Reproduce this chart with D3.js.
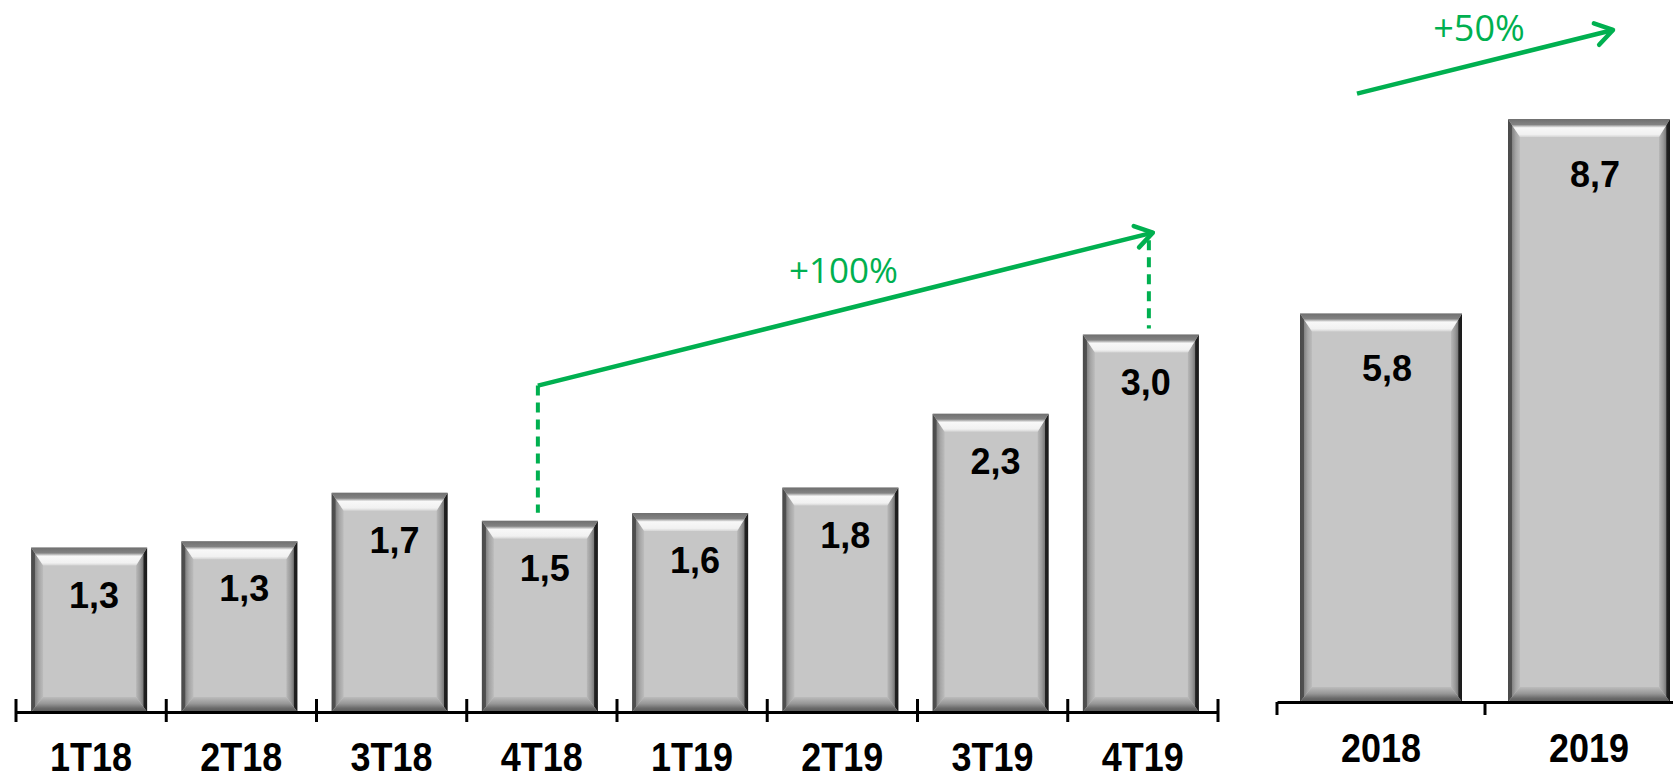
<!DOCTYPE html>
<html>
<head>
<meta charset="utf-8">
<script src="https://cdn.jsdelivr.net/npm/d3@7"></script>
<style>
	body { margin: 0; background: #fff; }
	svg { display: block; }
</style>
</head>
<body>
<div class="chart"></div>
<script>
const WIDTH = 1673;
const HEIGHT = 780;

// quarterly data (R$ bi)
const quarters = ['1T18', '2T18', '3T18', '4T18', '1T19', '2T19', '3T19', '4T19'];
const quarterValues = [1.29, 1.34, 1.72, 1.50, 1.56, 1.76, 2.34, 2.96];

// yearly data
const years = ['2018', '2019'];
const yearValues = [5.8, 8.7];

// growth callouts
const quarterGrowth = '+100%';
const yearGrowth = '+50%';

const GREEN = '#00b050';
const fmt = v => d3.format('.1f')(v).replace('.', ',');

const svg = d3
	.select('.chart')
	.append('svg')
	.attr('width', WIDTH)
	.attr('height', HEIGHT);

// gradients for the bevelled bars
const defs = svg.append('defs');
function grad(id, x1, y1, x2, y2, stops) {
	const g = defs.append('linearGradient')
		.attr('id', id)
		.attr('x1', x1).attr('y1', y1).attr('x2', x2).attr('y2', y2);
	stops.forEach(s => {
		g.append('stop').attr('offset', s[0]).attr('stop-color', s[1]);
	});
}
grad('gL', 0, 0, 1, 0, [[0, '#4a4a4a'], [0.3, '#505050'], [0.36, '#858585'], [0.65, '#a6a6a6'], [1, '#bcbcbc']]);
grad('gR', 1, 0, 0, 0, [[0, '#1a1a1a'], [0.3, '#222'], [0.36, '#7a7a7a'], [0.62, '#9a9a9a'], [1, '#b8b8b8']]);
grad('gT', 0, 0, 0, 1, [[0, '#707070'], [0.3, '#828282'], [0.4, '#c4c4c4'], [0.48, '#f8f8f8'], [0.85, '#f1f1f1'], [1, '#d4d4d4']]);
grad('gB', 0, 1, 0, 0, [[0, '#585858'], [0.25, '#6a6a6a'], [0.55, '#969696'], [1, '#bcbcbc']]);

defs.append('marker')
	.attr('id', 'arrow')
	.attr('markerUnits', 'userSpaceOnUse')
	.attr('markerWidth', 40)
	.attr('markerHeight', 40)
	.attr('refX', 0)
	.attr('refY', 0)
	.attr('orient', 'auto')
	.style('overflow', 'visible')
	.append('path')
	.attr('d', 'M-17,-11L0,0L-17,11')
	.attr('fill', 'none')
	.attr('stroke', GREEN)
	.attr('stroke-width', 4.5)
	.attr('stroke-linecap', 'round')
	.attr('stroke-linejoin', 'round');

function bevelBar(g, x, y, w, h) {
	const L = 12, R = 11, T = 18, B = 15;
	const poly = pts => pts.map(p => p.join(',')).join(' ');
	g.append('rect')
		.attr('x', x).attr('y', y).attr('width', w).attr('height', h)
		.attr('fill', '#c6c6c6');
	g.append('polygon')
		.attr('points', poly([[x, y], [x + L, y + T], [x + L, y + h - B], [x, y + h]]))
		.attr('fill', 'url(#gL)');
	g.append('polygon')
		.attr('points', poly([[x + w, y], [x + w - R, y + T], [x + w - R, y + h - B], [x + w, y + h]]))
		.attr('fill', 'url(#gR)');
	g.append('polygon')
		.attr('points', poly([[x, y], [x + w, y], [x + w - R, y + T], [x + L, y + T]]))
		.attr('fill', 'url(#gT)');
	g.append('polygon')
		.attr('points', poly([[x, y + h], [x + w, y + h], [x + w - R, y + h - B], [x + L, y + h - B]]))
		.attr('fill', 'url(#gB)');
}

// scales
const xQ = d3.scaleBand().domain(quarters).range([16, 1218]);
const yQ = d3.scaleLinear().domain([0, 4]).range([712, 202]);
const xY = d3.scaleBand().domain(years).range([1277, 1693]);
const yY = d3.scaleLinear().domain([0, 10]).range([702, 32]);

const QBAR = 116;
const YBAR = 162;
const LABEL_FONT = 'bold 36px "Liberation Sans", Arial, sans-serif';

// quarterly bars
const gQ = svg.append('g');
quarters.forEach((q, i) => {
	const x = xQ(q) + (xQ.bandwidth() - QBAR) / 2 - 2;
	const y = yQ(quarterValues[i]);
	bevelBar(gQ, x, y, QBAR, yQ(0) - y);
	gQ.append('text')
		.attr('transform', `translate(${x + QBAR / 2 + 5}, ${y + 60}) scale(1, 1.05)`)
		.attr('text-anchor', 'middle')
		.style('font', LABEL_FONT)
		.text(fmt(quarterValues[i]));
});

// yearly bars
const gY = svg.append('g');
years.forEach((yr, i) => {
	const x = xY(yr) + (xY.bandwidth() - YBAR) / 2;
	const y = yY(yearValues[i]);
	bevelBar(gY, x, y, YBAR, yY(0) - y);
	gY.append('text')
		.attr('transform', `translate(${x + YBAR / 2 + 6}, ${y + 68}) scale(1, 1.05)`)
		.attr('text-anchor', 'middle')
		.style('font', LABEL_FONT)
		.text(fmt(yearValues[i]));
});

// axes
function drawAxis(scale, yPos, tickUp, tickDown, labelY) {
	const ax = svg.append('g')
		.attr('transform', `translate(0, ${yPos})`)
		.call(d3.axisBottom(scale).tickSize(0).tickSizeOuter(0).tickFormat(''));
	ax.select('.domain').attr('stroke', '#000').attr('stroke-width', 3);
	const r0 = scale.range()[0];
	const edges = d3.range(scale.domain().length + 1).map(i => r0 + i * scale.step());
	ax.selectAll('line.edge')
		.data(edges)
		.enter()
		.append('line')
		.attr('class', 'edge')
		.attr('x1', d => d).attr('x2', d => d)
		.attr('y1', -tickUp).attr('y2', tickDown)
		.attr('stroke', '#000')
		.attr('stroke-width', 3);
	svg.append('g')
		.selectAll('text')
		.data(scale.domain())
		.enter()
		.append('text')
		.attr('transform', d => `translate(${scale(d) + scale.bandwidth() / 2}, ${labelY}) scale(1, 1.12)`)
		.attr('text-anchor', 'middle')
		.style('font', LABEL_FONT)
		.text(d => d);
}
drawAxis(xQ, 712, 13, 10, 771);
drawAxis(xY, 702, 0, 13, 762);

// +100% callout (4T18 -> 4T19)
const cQ = xQ('4T18') + xQ.bandwidth() / 2 - 4;
const cQ2 = xQ('4T19') + xQ.bandwidth() / 2;
const qStart = [cQ, yQ(2.56)];
const qEnd = [cQ2 + 10, yQ(3.76)];
svg.append('line')
	.attr('x1', cQ).attr('x2', cQ)
	.attr('y1', qStart[1]).attr('y2', yQ(quarterValues[3]) - 8)
	.attr('stroke', GREEN).attr('stroke-width', 4).attr('stroke-dasharray', '10,7');
svg.append('line')
	.attr('x1', cQ2 + 6).attr('x2', cQ2 + 6)
	.attr('y1', yQ(3.70)).attr('y2', yQ(quarterValues[7]) - 6)
	.attr('stroke', GREEN).attr('stroke-width', 4).attr('stroke-dasharray', '10,7');
svg.append('line')
	.attr('x1', qStart[0]).attr('y1', qStart[1])
	.attr('x2', qEnd[0]).attr('y2', qEnd[1])
	.attr('stroke', GREEN).attr('stroke-width', 4.5)
	.attr('marker-end', 'url(#arrow)');
svg.append('text')
	.attr('x', (qStart[0] + qEnd[0]) / 2 - 2)
	.attr('y', (qStart[1] + qEnd[1]) / 2 - 26)
	.attr('text-anchor', 'middle')
	.attr('fill', GREEN)
	.style('font', '35px "Open Sans", sans-serif')
	.text(quarterGrowth);

// +50% callout (2018 -> 2019)
const yStart = [xY('2018') + xY.bandwidth() / 2 - 24, yY(9.08)];
const yEnd = [xY('2019') + xY.bandwidth() / 2 + 24, yY(10.03)];
svg.append('line')
	.attr('x1', yStart[0]).attr('y1', yStart[1])
	.attr('x2', yEnd[0]).attr('y2', yEnd[1])
	.attr('stroke', GREEN).attr('stroke-width', 4.5)
	.attr('marker-end', 'url(#arrow)');
svg.append('text')
	.attr('x', (yStart[0] + yEnd[0]) / 2 - 6)
	.attr('y', (yStart[1] + yEnd[1]) / 2 - 21)
	.attr('text-anchor', 'middle')
	.attr('fill', GREEN)
	.style('font', '36px "Open Sans", sans-serif')
	.text(yearGrowth);
</script>
</body>
</html>
